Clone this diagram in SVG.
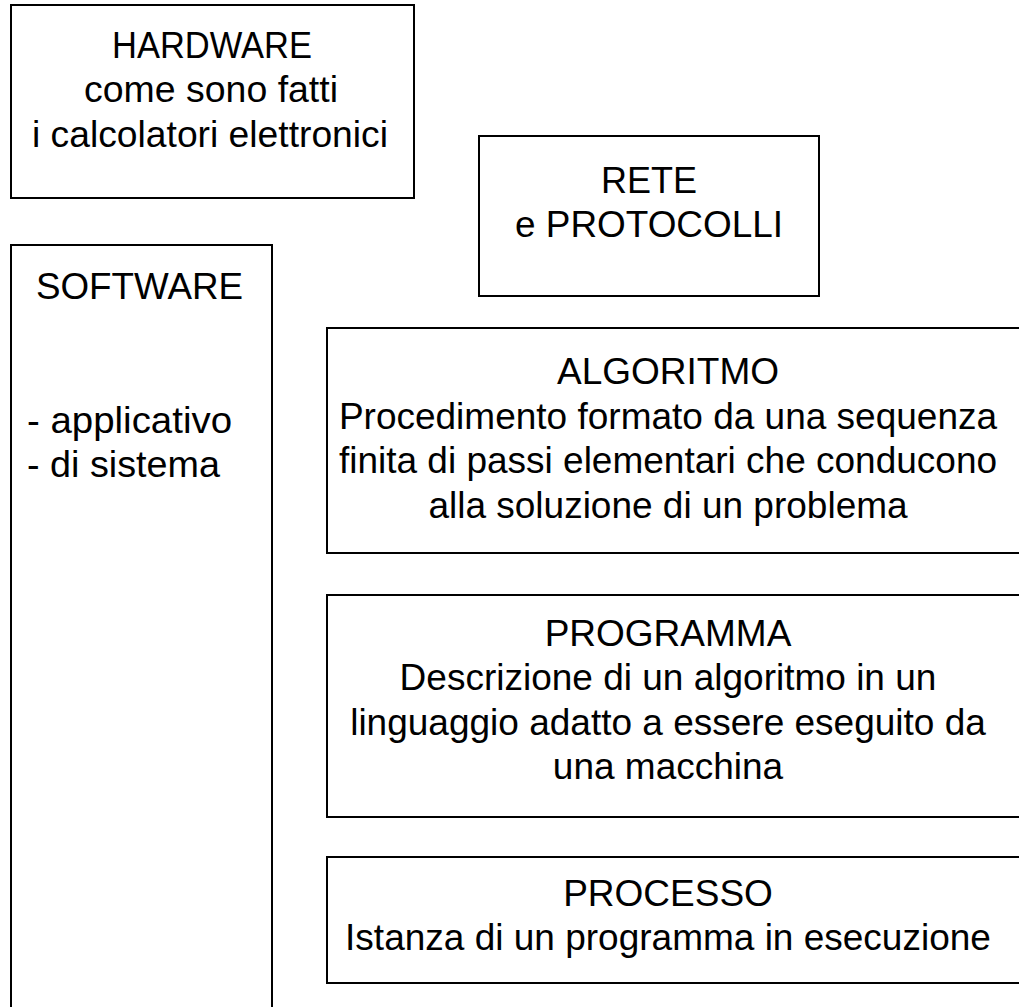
<svg xmlns="http://www.w3.org/2000/svg" width="1019" height="1007" viewBox="0 0 1019 1007">
<style>
.box{fill:#fff;stroke:#000;stroke-width:2}
text{font-family:"Liberation Sans",Arial,sans-serif;fill:#000}
.up{font-size:36px}
.c{text-anchor:middle}
.lo{font-size:37px;text-anchor:middle}
</style>
<rect width="1019" height="1007" fill="#fff"/>
<g id="hardware">
<rect class="box" x="11" y="5" width="403" height="193"/>
<text class="up c" x="212" y="58" textLength="200" lengthAdjust="spacingAndGlyphs">HARDWARE</text>
<text class="up c" x="211" y="102" textLength="254" lengthAdjust="spacingAndGlyphs">come sono fatti</text>
<text class="up c" x="210" y="147" textLength="356" lengthAdjust="spacingAndGlyphs">i calcolatori elettronici</text>
</g>
<g id="rete">
<rect class="box" x="479" y="136" width="340" height="160"/>
<text class="up c" x="649" y="193" textLength="96" lengthAdjust="spacingAndGlyphs">RETE</text>
<text class="up c" x="649" y="237" textLength="268" lengthAdjust="spacingAndGlyphs">e PROTOCOLLI</text>
</g>
<g id="software">
<rect class="box" x="11" y="245" width="261" height="800"/>
<text class="up" x="36" y="299" textLength="207" lengthAdjust="spacingAndGlyphs">SOFTWARE</text>
<text class="up" x="27" y="433" textLength="205" lengthAdjust="spacingAndGlyphs">- applicativo</text>
<text class="up" x="27" y="477" textLength="193" lengthAdjust="spacingAndGlyphs">- di sistema</text>
</g>
<g id="algoritmo">
<rect class="box" x="327" y="328" width="760" height="225"/>
<text class="lo" x="668" y="384">ALGORITMO</text>
<text class="lo" x="668" y="429">Procedimento formato da una sequenza</text>
<text class="lo" x="668" y="473">finita di passi elementari che conducono</text>
<text class="lo" x="668" y="518">alla soluzione di un problema</text>
</g>
<g id="programma">
<rect class="box" x="327" y="595" width="760" height="222"/>
<text class="lo" x="668" y="646">PROGRAMMA</text>
<text class="lo" x="668" y="690">Descrizione di un algoritmo in un</text>
<text class="lo" x="668" y="735">linguaggio adatto a essere eseguito da</text>
<text class="lo" x="668" y="779">una macchina</text>
</g>
<g id="processo">
<rect class="box" x="327" y="857" width="760" height="126"/>
<text class="lo" x="668" y="906">PROCESSO</text>
<text class="lo" x="668" y="950">Istanza di un programma in esecuzione</text>
</g>
<g id="connectors"></g>
</svg>
